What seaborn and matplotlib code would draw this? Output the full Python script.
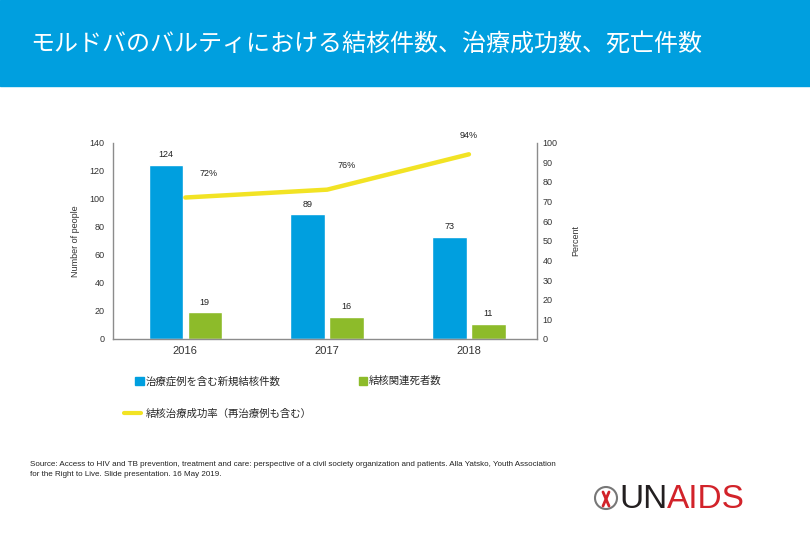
import numpy as np
import pandas as pd
import seaborn as sns
import matplotlib.pyplot as plt
from matplotlib.patches import Rectangle, Patch, Ellipse
from matplotlib.lines import Line2D

# データ
years = ['2016', '2017', '2018']
new_cases = [124, 89, 73]
deaths = [19, 16, 11]
success_rate = [72, 76, 94]

series_cases = '治療症例を含む新規結核件数'
series_deaths = '結核関連死者数'
series_rate = '結核治療成功率（再治療例も含む）'

title = 'モルドバのバルティにおける結核件数、治療成功数、死亡件数'
source = ('Source: Access to HIV and TB prevention, treatment and care: perspective of a civil society '
          'organization and patients. Alla Yatsko, Youth Association\n'
          'for the Right to Live. Slide presentation. 16 May 2019.')

c_blue = '#009FDF'
c_green = '#8DBB2A'
c_yellow = '#F2E324'
c_axis = '#8C8C8C'

sns.set_theme(style='white')
plt.rcParams['font.family'] = ['Liberation Sans', 'Noto Sans CJK JP']

df = pd.DataFrame({
    'year': years * 2,
    'series': [series_cases] * 3 + [series_deaths] * 3,
    'value': new_cases + deaths,
})

fig = plt.figure(figsize=(8.1, 5.4), dpi=100)

# タイトル帯
fig.add_artist(Rectangle((0, 1 - 86 / 540), 1, 86 / 540, transform=fig.transFigure,
                         color=c_blue, zorder=0))
fig.text(30 / 810, 1 - 44 / 540, title, color='white', fontsize=17.3,
         family=['Noto Sans CJK JP'], va='center', ha='left')

ax = fig.add_axes([113 / 810, 1 - 339 / 540, 424 / 810, 196.5 / 540])
sns.barplot(data=df, x='year', y='value', hue='series', order=years,
            palette=[c_blue, c_green], saturation=1, width=0.55, gap=0.12,
            ax=ax, legend=False)
for cont in ax.containers:
    ax.bar_label(cont, padding=4, fontsize=6.5, color='#222222')

ax.set_ylim(0, 140)
ax.set_yticks(range(0, 141, 20))
ax.set_xlim(-0.51, 2.48)
ax.set_xlabel('')
ax.set_ylabel('Number of people', fontsize=6.5, labelpad=7, color='#333333')
ax.tick_params(axis='y', length=0, pad=6, labelsize=6.5, colors='#333333')
ax.tick_params(axis='x', length=0, pad=5, labelsize=8, colors='#333333')
for s in ['top', 'right']:
    ax.spines[s].set_visible(False)
for s in ['left', 'bottom']:
    ax.spines[s].set_color(c_axis)
    ax.spines[s].set_linewidth(1)

ax2 = ax.twinx()
pos = np.arange(len(years))
sns.lineplot(x=pos, y=success_rate, color=c_yellow, linewidth=3.2, ax=ax2)
ax2.set_ylim(0, 100)
ax2.set_yticks(range(0, 101, 10))
ax2.set_ylabel('Percent', fontsize=6.5, labelpad=10, color='#333333')
ax2.tick_params(axis='y', length=0, pad=4, labelsize=6.5, colors='#333333')
for s in ['top', 'left', 'bottom']:
    ax2.spines[s].set_visible(False)
ax2.spines['right'].set_color(c_axis)
ax2.spines['right'].set_linewidth(1)

offsets = [(17, 14), (14, 14), (0, 10)]
for x, v, (dx, dy) in zip(pos, success_rate, offsets):
    ax2.annotate(f'{v}%', (x, v), xytext=(dx, dy), textcoords='offset points',
                 ha='center', va='bottom', fontsize=6.5, color='#222222')

# 凡例
h_bars = [Patch(color=c_blue), Patch(color=c_green)]
fig.legend(h_bars, [series_cases, series_deaths], ncol=2, frameon=False,
           loc='center left', bbox_to_anchor=(126 / 810, 1 - 381 / 540),
           fontsize=7.5, handlelength=0.8, handleheight=0.8,
           handletextpad=0.2, columnspacing=7.5)
fig.legend([Line2D([0], [0], color=c_yellow, lw=3)], [series_rate], frameon=False,
           loc='center left', bbox_to_anchor=(115 / 810, 1 - 414 / 540),
           fontsize=7.5, handlelength=1.6, handletextpad=0.5)

fig.text(30 / 810, 1 - 461 / 540, source, fontsize=5.8, color='#222222',
         va='top', ha='left', linespacing=1.5)

# ロゴ
fig.add_artist(Ellipse((606 / 810, 1 - 498 / 540), 22 / 810, 22 / 540,
                       transform=fig.transFigure, facecolor='white',
                       edgecolor='#777777', lw=1.5))
fig.add_artist(Line2D([603 / 810, 609 / 810], [1 - 492 / 540, 1 - 506 / 540],
                      transform=fig.transFigure, color='#D2232A', lw=2))
fig.add_artist(Line2D([609 / 810, 603 / 810], [1 - 492 / 540, 1 - 506 / 540],
                      transform=fig.transFigure, color='#D2232A', lw=2))
fig.text(619 / 810, 1 - 499 / 540, 'UN', fontsize=24, color='#231F20',
         va='center', ha='left', family=['Liberation Sans'])
fig.text(667 / 810, 1 - 499 / 540, 'AIDS', fontsize=24, color='#D2232A',
         va='center', ha='left', family=['Liberation Sans'])

fig.savefig('out.png', dpi=100)
